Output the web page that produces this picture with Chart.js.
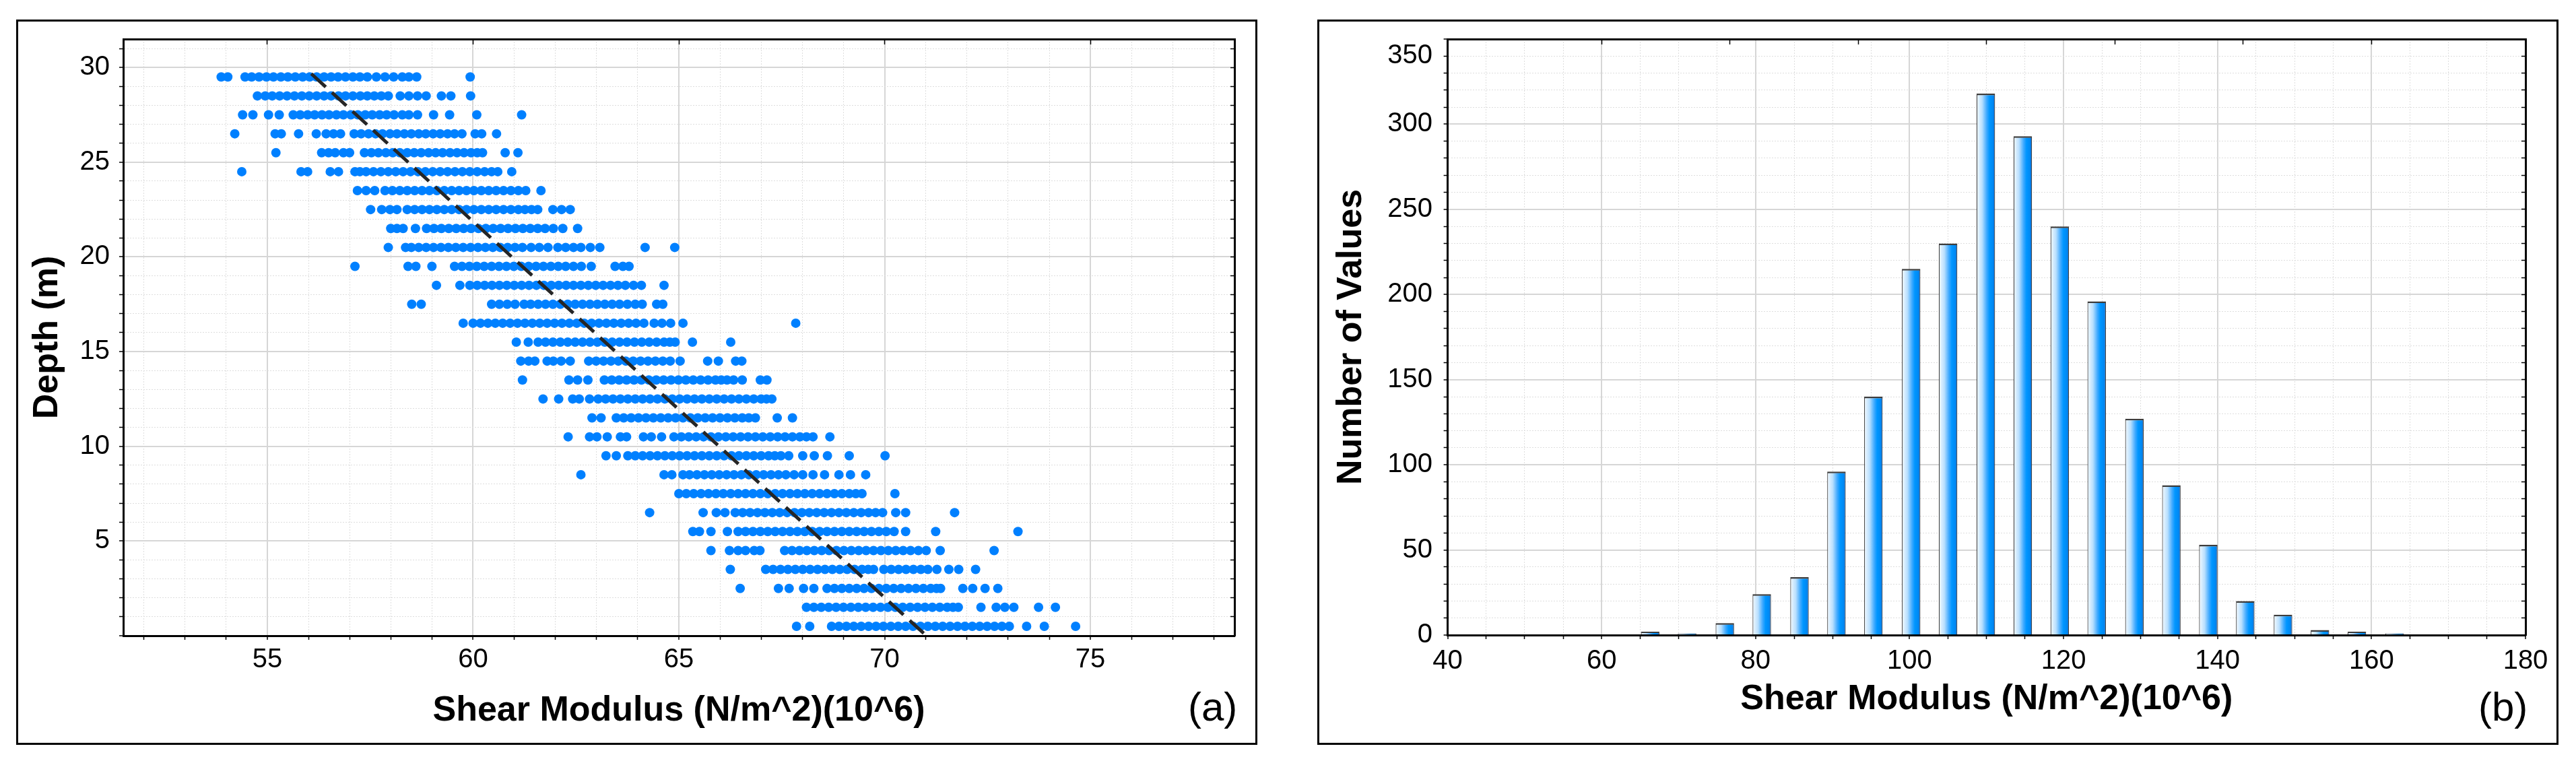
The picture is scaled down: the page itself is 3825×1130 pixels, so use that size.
<!DOCTYPE html>
<html><head><meta charset="utf-8">
<script src="https://cdn.jsdelivr.net/npm/chart.js@4.4.0/dist/chart.umd.min.js"></script>
<style>
html,body{margin:0;padding:0;background:#fff;width:3825px;height:1130px;overflow:hidden;}
.frame{position:absolute;border:3px solid #000;box-sizing:border-box;}
canvas{position:absolute;}
.lab{position:absolute;font-family:'Liberation Sans',Arial,sans-serif;font-size:60px;line-height:1;color:#000;}
</style></head><body>
<div class="frame" style="left:24px;top:29px;width:1843px;height:1077px"></div>
<div class="frame" style="left:1956px;top:29px;width:1843px;height:1077px"></div>
<canvas id="c1" width="1900" height="1130" style="left:0;top:0"></canvas>
<canvas id="c2" width="1925" height="1130" style="left:1900px;top:0"></canvas>
<div class="lab" style="left:1764px;top:1020px">(a)</div>
<div class="lab" style="left:3680px;top:1020px">(b)</div>
<script>
// ---------- DATA ----------
const depthLevels = [29.5,28.5,27.5,26.5,25.5,24.5,23.5,22.5,21.5,20.5,19.5,18.5,17.5,16.5,15.5,14.5,13.5,12.5,11.5,10.5,9.5,8.5,7.5,6.5,5.5,4.5,3.5,2.5,1.5,0.5];
const shearRows = [
 [53.88,54.04,54.46,54.62,54.8,54.98,55.15,55.33,55.5,55.68,55.86,56.03,56.2,56.38,56.55,56.72,56.9,57.08,57.25,57.43,57.65,57.86,58.07,58.28,58.44,58.63,59.93],
 [54.76,54.95,55.12,55.3,55.48,55.66,55.84,56.02,56.2,56.38,56.55,56.73,56.9,57.08,57.26,57.43,57.6,57.77,57.94,58.23,58.44,58.65,58.86,59.23,59.46,59.94],
 [54.4,54.65,55.03,55.29,55.63,55.8,55.98,56.15,56.33,56.5,56.68,56.85,57.03,57.2,57.38,57.55,57.73,57.9,58.08,58.28,58.44,58.65,59.04,59.43,60.09,61.18],
 [54.21,55.19,55.34,55.76,56.19,56.43,56.61,56.78,57.11,57.28,57.46,57.63,57.8,57.98,58.15,58.33,58.5,58.68,58.85,59.03,59.2,59.38,59.55,59.73,60.05,60.21,60.57],
 [55.21,56.32,56.49,56.65,56.85,57.0,57.36,57.53,57.7,57.88,58.05,58.22,58.4,58.57,58.74,58.92,59.09,59.26,59.44,59.61,59.78,59.95,60.1,60.23,60.78,61.09],
 [54.38,55.82,55.98,56.53,56.73,57.13,57.25,57.4,57.58,57.76,57.94,58.12,58.3,58.48,58.66,58.84,59.02,59.2,59.38,59.56,59.74,59.92,60.1,60.28,60.45,60.6,60.94],
 [57.19,57.4,57.61,57.86,58.04,58.22,58.4,58.58,58.76,58.94,59.12,59.3,59.48,59.66,59.84,60.02,60.2,60.38,60.56,60.74,60.92,61.1,61.28,61.65],
 [57.51,57.78,57.98,58.15,58.4,58.58,58.76,58.94,59.12,59.3,59.48,59.66,59.84,60.02,60.2,60.38,60.56,60.74,60.92,61.1,61.26,61.42,61.57,61.94,62.15,62.36],
 [58.0,58.15,58.3,58.6,58.87,59.05,59.23,59.41,59.59,59.77,59.95,60.13,60.31,60.49,60.67,60.85,61.03,61.21,61.39,61.57,61.75,61.95,62.18,62.54],
 [57.94,58.36,58.5,58.68,58.86,59.04,59.22,59.4,59.58,59.76,59.94,60.12,60.3,60.48,60.66,60.84,61.02,61.2,61.41,61.61,61.82,62.06,62.25,62.44,62.62,62.85,63.08,64.18,64.9],
 [57.13,58.42,58.61,59.0,59.55,59.73,59.91,60.09,60.27,60.45,60.63,60.81,60.99,61.17,61.35,61.53,61.71,61.89,62.07,62.25,62.44,62.63,62.87,63.45,63.64,63.79],
 [59.11,59.68,59.92,60.1,60.28,60.46,60.64,60.82,61.0,61.18,61.36,61.54,61.72,61.9,62.08,62.26,62.44,62.62,62.8,62.98,63.16,63.34,63.52,63.7,63.9,64.09,64.64],
 [58.51,58.74,60.45,60.64,60.83,61.02,61.24,61.4,61.58,61.76,61.94,62.12,62.3,62.48,62.66,62.84,63.02,63.2,63.38,63.56,63.75,63.94,64.11,64.46,64.61],
 [59.76,60.0,60.18,60.36,60.54,60.72,60.9,61.08,61.26,61.44,61.62,61.8,61.98,62.16,62.34,62.52,62.7,62.88,63.06,63.24,63.42,63.6,63.78,63.96,64.15,64.4,64.59,64.8,65.1,67.84],
 [61.05,61.34,61.58,61.76,61.94,62.12,62.3,62.48,62.66,62.84,63.02,63.2,63.38,63.56,63.74,63.92,64.1,64.28,64.46,64.64,64.78,64.91,65.33,66.26],
 [61.16,61.35,61.5,61.8,61.95,62.14,62.36,62.81,62.99,63.17,63.35,63.53,63.71,63.89,64.07,64.25,64.43,64.61,64.79,65.03,65.7,65.96,66.38,66.53],
 [61.2,62.33,62.54,62.79,63.19,63.37,63.55,63.73,63.91,64.09,64.27,64.45,64.63,64.81,64.99,65.17,65.35,65.53,65.71,65.89,66.03,66.17,66.33,66.54,66.98,67.14],
 [61.7,62.08,62.42,62.58,62.83,63.04,63.22,63.4,63.58,63.76,63.94,64.12,64.3,64.48,64.66,64.84,65.02,65.2,65.38,65.56,65.74,65.92,66.1,66.28,66.46,66.64,66.82,67.0,67.13,67.26],
 [62.89,63.11,63.48,63.66,63.84,64.02,64.2,64.38,64.56,64.74,64.92,65.1,65.28,65.46,65.64,65.82,66.0,66.18,66.36,66.54,66.7,66.86,67.39,67.76],
 [62.31,62.83,63.01,63.26,63.58,63.73,64.14,64.33,64.58,64.88,65.06,65.24,65.42,65.6,65.78,65.96,66.14,66.32,66.5,66.68,66.86,67.04,67.22,67.4,67.58,67.76,67.94,68.1,68.26,68.67],
 [63.23,63.48,63.76,63.94,64.12,64.3,64.48,64.66,64.84,65.02,65.2,65.38,65.56,65.74,65.92,66.1,66.28,66.46,66.64,66.82,67.0,67.18,67.33,67.48,67.67,68.01,68.29,68.61,69.14,70.01],
 [62.62,64.64,64.83,65.1,65.26,65.44,65.62,65.8,65.98,66.16,66.34,66.52,66.7,66.88,67.06,67.24,67.42,67.6,67.8,68.01,68.26,68.54,68.89,69.17,69.54],
 [65.0,65.18,65.36,65.54,65.72,65.9,66.08,66.26,66.44,66.62,66.8,66.98,67.16,67.34,67.52,67.7,67.88,68.06,68.24,68.42,68.6,68.78,68.96,69.14,69.3,69.45,70.25],
 [64.29,65.59,65.91,66.12,66.37,66.55,66.73,66.91,67.09,67.27,67.45,67.63,67.81,67.99,68.17,68.35,68.53,68.71,68.89,69.07,69.25,69.43,69.61,69.78,69.95,70.27,70.51,71.7],
 [65.34,65.5,65.78,66.18,66.44,66.62,66.8,66.98,67.16,67.34,67.52,67.7,67.88,68.06,68.24,68.42,68.6,68.78,68.96,69.14,69.32,69.5,69.68,69.86,70.04,70.23,70.51,71.24,73.24],
 [65.78,66.23,66.44,66.62,66.83,66.97,67.57,67.75,67.93,68.11,68.29,68.47,68.65,68.83,69.01,69.19,69.37,69.55,69.73,69.91,70.09,70.27,70.45,70.63,70.82,71.01,71.35,72.66],
 [66.25,67.11,67.29,67.47,67.65,67.83,68.01,68.19,68.37,68.55,68.73,68.91,69.09,69.27,69.45,69.6,69.73,69.98,70.16,70.34,70.52,70.7,70.88,71.05,71.27,71.56,71.8,72.21],
 [66.49,67.42,67.68,68.03,68.28,68.6,68.78,68.96,69.14,69.32,69.5,69.68,69.86,70.04,70.22,70.4,70.58,70.76,70.94,71.12,71.26,71.36,71.9,72.14,72.44,72.75],
 [68.1,68.28,68.46,68.64,68.82,69.0,69.18,69.36,69.54,69.72,69.9,70.08,70.26,70.44,70.62,70.8,70.98,71.16,71.34,71.52,71.66,71.79,72.34,72.71,72.92,73.14,73.74,74.15],
 [67.86,68.18,68.71,68.89,69.07,69.25,69.43,69.61,69.79,69.97,70.15,70.33,70.51,70.69,70.87,71.05,71.23,71.41,71.59,71.77,71.95,72.13,72.31,72.49,72.67,72.85,73.03,73.45,73.88,74.64]
];
const fitLineX = [56.07, 70.95];
const fitLineY = [29.67, 0.13];

const binCenters = [66.3,71.1,76.0,80.8,85.7,90.5,95.3,100.2,105.0,109.9,114.7,119.5,124.3,129.2,134.0,138.8,143.6,148.5,153.3,158.1,163.0];
const binCounts  = [2,1,7,24,34,96,140,215,230,318,293,240,196,127,88,53,20,12,3,2,1];

const xTicksA = [55,60,65,70,75];
const yTicksA = [5,10,15,20,25,30];
const xTicksB = [40,60,80,100,120,140,160,180];
const yTicksB = {0:'0',50:'50',100:'100',150:'150',200:'200',250:'250',300:'300',340:'350'};

// ---------- STYLE ----------
const FONT = "'Liberation Sans', Arial, sans-serif";
const tickFont = {family: FONT, size: 40};
const titleFont = {family: FONT, size: 52, weight: 'bold'};
const MAJ = '#d6d6d6', MIN = '#dedede';

function stepsBetween(a, b, step){ const out=[]; for(let v=a; v<=b+1e-9; v+=step) out.push(Math.round(v*1000)/1000); return out; }
function fixTicks(values){ return s => { s.ticks = values.map(v => ({value: v})); }; }

function gridOpts(isMajor){
  return {
    color: c => (c.tick && isMajor(c.tick.value)) ? MAJ : MIN,
    lineWidth: c => (c.tick && isMajor(c.tick.value)) ? 2 : 1,
    tickLength: 6, tickColor: '#000', tickWidth: 1.5, drawTicks: true
  };
}
function borderOpts(isMajor){
  return {display: true, color: '#000', width: 3,
    dash: c => (c.tick && !isMajor(c.tick.value)) ? [2,2] : []};
}
function boxAxis(pos, min, max, vals, len){
  return {type:'linear', position: pos, min, max,
    ticks:{display:false},
    afterBuildTicks: fixTicks(vals),
    grid:{drawOnChartArea:false, drawTicks:true, tickLength: len, tickColor:'#000', tickWidth:1.5},
    border:{display:true, color:'#000', width:3},
    afterFit: s => { if (pos==='top') s.height = 0; else s.width = 0; }
  };
}

// ---------- CHART A (scatter) ----------
const scatterPts = [];
depthLevels.forEach((d, i) => shearRows[i].forEach(v => scatterPts.push({x: v, y: d})));
const isMajA = v => Math.abs(v % 5) < 1e-9;

new Chart(document.getElementById('c1'), {
  type: 'scatter',
  data: { datasets: [
    { type:'line', data: fitLineX.map((x,i)=>({x, y: fitLineY[i]})), borderColor:'#262626', borderWidth:5,
      borderDash:[29,12.5], pointRadius:0, fill:false, xAxisID:'x', yAxisID:'y' },
    { data: scatterPts, backgroundColor:'#0080ff', borderWidth:0, pointRadius:7, pointHoverRadius:7, xAxisID:'x', yAxisID:'y' }
  ]},
  options: {
    responsive:false, animation:false, devicePixelRatio:1,
    layout:{padding:{left:0, top:58, right:67, bottom:0}},
    plugins:{legend:{display:false}, tooltip:{enabled:false}},
    scales:{
      x:{type:'linear', position:'bottom', min:51.5, max:78.5,
        afterBuildTicks: fixTicks(stepsBetween(52, 78, 1)),
        ticks:{autoSkip:false, maxRotation:0, padding:6, font:tickFont, color:'#000',
          callback: v => xTicksA.includes(v) ? String(v) : ''},
        grid: gridOpts(isMajA), border: borderOpts(isMajA),
        title:{display:true, text:'Shear Modulus (N/m^2)(10^6)', font:titleFont, color:'#000', padding:{top:0, bottom:43}},
        afterFit: s => { s.height = 186; }
      },
      y:{type:'linear', position:'left', min:0, max:31.5,
        afterBuildTicks: fixTicks(stepsBetween(0, 31, 1)),
        ticks:{autoSkip:false, padding:14, font:tickFont, color:'#000',
          callback: v => yTicksA.includes(v) ? String(v) : ''},
        grid: gridOpts(isMajA), border: borderOpts(isMajA),
        title:{display:true, text:'Depth (m)', font:titleFont, color:'#000', padding:{top:39, bottom:0}},
        afterFit: s => { s.width = 183; }
      },
      x2: boxAxis('top', 51.5, 78.5, [55,60,65,70,75], -8),
      y2: boxAxis('right', 0, 31.5, stepsBetween(1, 31, 1), -6)
    }
  }
});

// ---------- CHART B (histogram) ----------
const binStep = binCenters[1] - binCenters[0];
const isMajBx = v => Math.abs(v % 20) < 1e-9;
const isMajBy = v => Math.abs(v % 50) < 1e-9;

function barFill(c){
  const ch = c.chart, xs = ch.scales && ch.scales.x;
  if (!xs || !ch.chartArea || c.type !== 'data' || !c.raw) return '#0090ff';
  const cx = xs.getPixelForValue(c.raw.x);
  const half = Math.abs(xs.getPixelForValue(binStep) - xs.getPixelForValue(0)) * 0.25;
  const g = ch.ctx.createLinearGradient(cx - half, 0, cx + half, 0);
  g.addColorStop(0, '#f4faff');
  g.addColorStop(0.3, '#b8dffe');
  g.addColorStop(0.55, '#3ea9ff');
  g.addColorStop(0.7, '#0096ff');
  g.addColorStop(0.9, '#0088f2');
  g.addColorStop(1, '#0052c0');
  return g;
}

new Chart(document.getElementById('c2'), {
  type: 'bar',
  data: { datasets: [{
    data: binCenters.map((x,i)=>({x, y: binCounts[i]})),
    backgroundColor: barFill, borderColor:'#3c3c3c',
    borderWidth:{top:2.5, left:1.2, right:1.2, bottom:0}, borderSkipped:'bottom',
    barPercentage:0.5, categoryPercentage:1.0, xAxisID:'x', yAxisID:'y'
  }]},
  options: {
    responsive:false, animation:false, devicePixelRatio:1,
    layout:{padding:{left:0, top:58, right:75, bottom:0}},
    plugins:{legend:{display:false}, tooltip:{enabled:false}},
    scales:{
      x:{type:'linear', position:'bottom', min:40, max:180, offset:false,
        afterBuildTicks: fixTicks(stepsBetween(40, 180, 5)),
        ticks:{autoSkip:false, maxRotation:0, padding:9, font:tickFont, color:'#000',
          callback: v => xTicksB.includes(v) ? String(v) : ''},
        grid: Object.assign(gridOpts(isMajBx), {offset:false}), border: borderOpts(isMajBx),
        title:{display:true, text:'Shear Modulus (N/m^2)(10^6)', font:titleFont, color:'#000', padding:{top:0, bottom:60}},
        afterFit: s => { s.height = 187; }
      },
      y:{type:'linear', position:'left', min:0, max:350,
        afterBuildTicks: fixTicks(stepsBetween(0, 350, 10)),
        ticks:{autoSkip:false, padding:16.6, font:tickFont, color:'#000',
          callback: v => (v in yTicksB) ? yTicksB[v] : ''},
        grid: gridOpts(isMajBy), border: borderOpts(isMajBy),
        title:{display:true, text:'Number of Values', font:titleFont, color:'#000', padding:{top:75, bottom:0}},
        afterFit: s => { s.width = 249.6; }
      },
      x2: boxAxis('top', 40, 180, [60,80,100,120,140,160], -8),
      y2: boxAxis('right', 0, 350, stepsBetween(10, 340, 10), -6)
    }
  }
});
</script>
</body></html>
